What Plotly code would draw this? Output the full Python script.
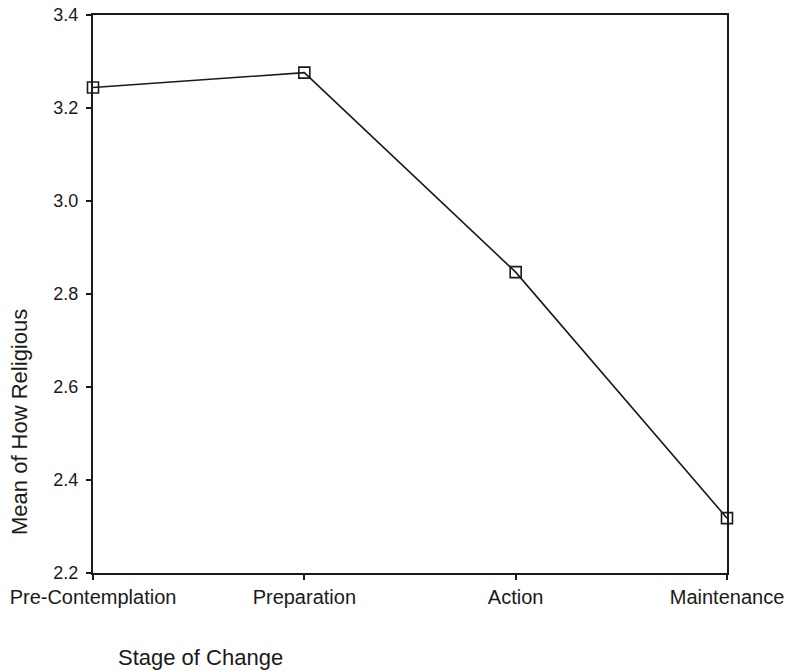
import plotly.graph_objects as go

# Stages of change and the mean religiosity score at each stage
stages = ["Pre-Contemplation", "Preparation", "Action", "Maintenance"]
mean_religious = [3.244, 3.276, 2.847, 2.318]

y_ticks = [2.2, 2.4, 2.6, 2.8, 3.0, 3.2, 3.4]

FONT = "Liberation Sans, Arial, sans-serif"
INK = "#1a1a1a"

fig = go.Figure()
fig.add_trace(go.Scatter(
    x=list(range(len(stages))),
    y=mean_religious,
    mode="lines+markers",
    line=dict(color=INK, width=1.6),
    marker=dict(symbol="square-open", size=11, color=INK, line=dict(width=1.6, color=INK)),
    cliponaxis=False,
    showlegend=False,
))

fig.update_layout(
    width=786,
    height=672,
    margin=dict(l=93, r=59, t=15, b=99, autoexpand=False),
    paper_bgcolor="white",
    plot_bgcolor="white",
    font=dict(family=FONT, color=INK),
    xaxis=dict(
        range=[0, 3],
        automargin=False,
        tickmode="array",
        tickvals=list(range(len(stages))),
        ticktext=stages,
        ticks="outside",
        ticklen=5,
        tickwidth=1.5,
        tickcolor=INK,
        tickfont=dict(size=20, family=FONT, color=INK),
        showline=True,
        linecolor=INK,
        linewidth=2,
        mirror=True,
        showgrid=False,
        zeroline=False,
    ),
    yaxis=dict(
        range=[2.2, 3.4],
        automargin=False,
        tickmode="array",
        tickvals=y_ticks,
        ticktext=[f"{v:.1f}" for v in y_ticks],
        ticks="outside",
        ticklen=5,
        tickwidth=1.5,
        tickcolor=INK,
        tickfont=dict(size=18, family=FONT, color=INK),
        ticklabelstandoff=4,
        showline=True,
        linecolor=INK,
        linewidth=2,
        mirror=True,
        showgrid=False,
        zeroline=False,
    ),
    annotations=[
        dict(
            text="Mean of How Religious",
            xref="paper", yref="paper",
            x=-93 / 634 + 20 / 634, y=(573 - 422) / 558,
            xanchor="center", yanchor="middle",
            textangle=-90,
            showarrow=False,
            font=dict(size=22, family=FONT, color=INK),
        ),
        dict(
            text="Stage of Change",
            xref="paper", yref="paper",
            x=(200 - 93) / 634, y=-(657 - 573) / 558,
            xanchor="center", yanchor="middle",
            showarrow=False,
            font=dict(size=22, family=FONT, color=INK),
        ),
    ],
)

fig.write_html("out.html")
